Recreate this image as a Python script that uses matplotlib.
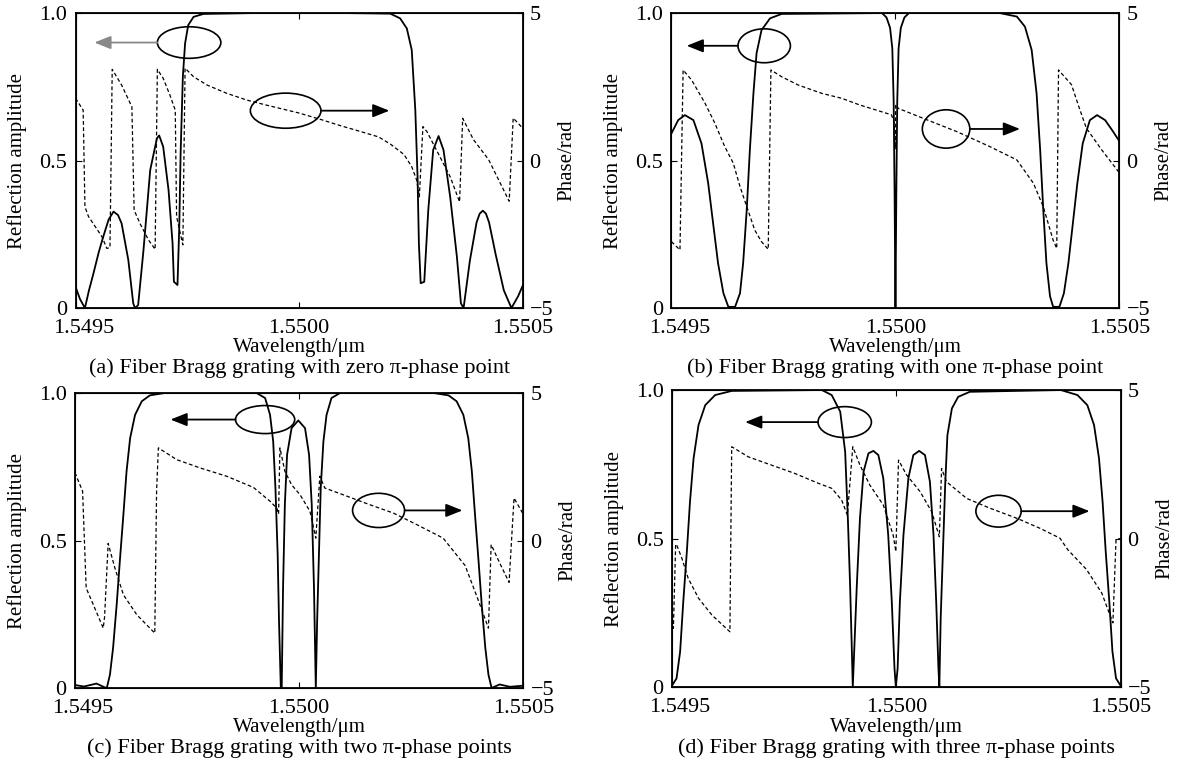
import matplotlib.pyplot as plt
import matplotlib.transforms as mtransforms
from matplotlib.patches import Ellipse
import numpy as np

plt.rcParams['font.family'] = ['Liberation Serif', 'DejaVu Serif']
plt.rcParams['font.size'] = 15

# wavelength detuning from 1.5500 um, in pm; amplitude 0..1; phase in rad
a_amp_d = [-500, -490, -479, -470, -460, -448, -438, -426, -415, -405, -397, -382, -371, -367, -360,
           -348, -333, -318, -313, -304, -292, -283, -280, -272, -268, -265, -260, -255, -248, -236,
           -214, -100, 100, 204, 226, 241, 252, 260, 265, 268, 272, 280, 289, 300, 312, 323, 338,
           353, 362, 368, 382, 397, 404, 411, 418, 425, 440, 458, 475, 490, 500]
a_amp = [0.072, 0.03, 0.0, 0.06, 0.117, 0.19, 0.242, 0.30, 0.327, 0.315, 0.287, 0.163, 0.016, 0.0, 0.01,
         0.197, 0.468, 0.575, 0.585, 0.547, 0.40, 0.219, 0.089, 0.078, 0.276, 0.524, 0.784, 0.897, 0.959, 0.987,
         0.997, 1.0, 1.0, 0.998, 0.982, 0.948, 0.875, 0.671, 0.445, 0.219, 0.084, 0.089, 0.332, 0.536, 0.583, 0.536, 0.377,
         0.174, 0.016, 0.0, 0.16, 0.29, 0.32, 0.33, 0.32, 0.29, 0.18, 0.06, 0.0, 0.04, 0.075]
a_ph_d = [-500, -483, -479, -471, -441, -430, -423, -418, -397, -374, -369, -356, -337, -322, -317,
          -304, -289, -277, -274, -260, -255, -236, -206, -162, -117, -76, 0, 51, 93, 136, 178,
          205, 235, 252, 263, 269, 277, 286, 315, 338, 359, 366, 390, 424, 470, 479, 500]
a_ph = [2.11, 1.71, -1.57, -1.90, -2.58, -2.98, -2.95, 3.09, 2.56, 1.82, -1.68, -2.13, -2.69, -3.01, 3.09,
        2.79, 2.22, 1.71, -1.90, -2.86, 3.13, 2.84, 2.56, 2.28, 2.05, 1.89, 1.61, 1.38, 1.18, 0.99, 0.80,
        0.55, 0.20, -0.21, -0.66, -1.23, 1.15, 0.98, 0.13, -0.55, -1.40, 1.43, 0.71, 0.03, -1.38, 1.44, 1.10]

b_amp_d = [-500, -485, -470, -451, -433, -418, -407, -396, -384, -373, -358, -347, -340, -332, -325,
           -317, -310, -299, -280, -254, -30, -20, -12, -7, -4, -2, -0.5, 0, 0.5, 2, 4, 7, 12, 20, 30,
           233, 271, 289, 304, 315, 323, 330, 337, 345, 352, 366, 376, 386, 396, 406, 418, 434, 450,
           468, 485, 500]
b_amp = [0.592, 0.637, 0.654, 0.637, 0.558, 0.423, 0.287, 0.152, 0.050, 0.004, 0.004, 0.05, 0.152, 0.332, 0.536,
         0.728, 0.864, 0.942, 0.982, 0.997, 1.0, 0.985, 0.95, 0.88, 0.7, 0.4, 0.1, 0.0, 0.1, 0.4, 0.7, 0.88, 0.95, 0.985, 1.0,
         1.0, 0.988, 0.954, 0.875, 0.728, 0.536, 0.332, 0.152, 0.04, 0.004, 0.004, 0.05, 0.152, 0.287, 0.423, 0.558, 0.637, 0.654,
         0.637, 0.60, 0.565]
b_ph_d = [-500, -481, -474, -455, -425, -403, -381, -362, -347, -332, -314, -299, -284, -278, -254,
          -217, -165, -120, -81, -9, -3, -0.5, 0.5, 6, 62, 137, 211, 271, 308, 330, 352, 360, 364,
          393, 409, 426, 460, 500]
b_ph = [-2.75, -3.03, 3.07, 2.73, 1.94, 1.26, 0.47, -0.09, -0.88, -1.56, -2.36, -2.75, -3.01, 3.07, 2.84,
        2.56, 2.28, 2.11, 1.89, 1.55, 1.3, 0.4, 1.9, 1.77, 1.43, 0.98, 0.47, 0.02, -0.77, -1.57, -2.70, -2.98, 3.07,
        2.57, 1.84, 1.10, 0.37, -0.42]

c_amp_d = [-500, -480, -452, -435, -429, -422, -415, -407, -400, -392, -385, -377, -366, -351, -333,
           -300, -95, -76, -65, -58, -53, -48, -45, -41, -39, -36, -32, -27, -17, -2, 13, 22, 28, 33,
           37, 40, 44, 48, 54, 61, 72, 91, 300, 333, 351, 366, 377, 385, 392, 400, 407, 415, 422, 429,
           447, 470, 500]
c_amp = [0.01, 0.005, 0.015, 0.003, 0.0, 0.045, 0.136, 0.282, 0.429, 0.588, 0.734, 0.847, 0.926, 0.972, 0.992,
         1.0, 1.0, 0.983, 0.926, 0.836, 0.678, 0.452, 0.226, 0.0, 0.0, 0.339, 0.621, 0.791, 0.881, 0.907, 0.881, 0.791, 0.621, 0.339,
         0.0, 0.226, 0.452, 0.678, 0.836, 0.926, 0.983, 1.0, 1.0, 0.992, 0.972, 0.926, 0.847, 0.734, 0.588, 0.429, 0.282, 0.136, 0.045, 0.0,
         0.012, 0.004, 0.008]
c_ph_d = [-500, -483, -475, -459, -437, -434, -426, -411, -392, -362, -322, -318, -314, -273, -221,
          -162, -102, -65, -50, -46, -43, -32, -17, 2, 24, 37, 46, 57, 98, 158, 210, 262, 321, 370,
          396, 422, 428, 447, 468, 479, 500]
c_ph = [2.3, 1.67, -1.61, -2.18, -2.97, -2.6, -0.1, -0.93, -1.84, -2.52, -3.14, 1.67, 3.14, 2.74, 2.46,
        2.18, 1.80, 1.33, 1.10, 0.9, 3.14, 2.35, 1.89, 1.55, 0.99, 0.08, 2.18, 1.78, 1.55, 1.21, 0.93, 0.54, 0.08, -0.85,
        -1.89, -2.97, -0.14, -0.76, -1.42, 1.44, 0.88]

d_amp_d = [-500, -490, -482, -475, -467, -460, -452, -441, -426, -404, -367, -166, -144, -125, -114,
           -108, -103, -99, -97, -88, -81, -73, -62, -51, -40, -29, -18, -10, -4, -1, 3, 8, 16, 27, 38,
           51, 64, 75, 83, 89, 94, 96, 99, 104, 109, 114, 124, 138, 164, 367, 404, 426, 441, 452, 460,
           467, 475, 482, 490, 500]
d_amp = [0.005, 0.029, 0.119, 0.287, 0.456, 0.624, 0.770, 0.882, 0.949, 0.983, 0.997, 1.0, 0.983, 0.927, 0.792,
         0.568, 0.343, 0.119, 0.0, 0.343, 0.568, 0.725, 0.787, 0.795, 0.781, 0.703, 0.512, 0.287, 0.063, 0.0, 0.063, 0.287, 0.512, 0.703, 0.781,
         0.795, 0.781, 0.691, 0.512, 0.287, 0.063, 0.0, 0.231, 0.456, 0.680, 0.848, 0.938, 0.977, 0.994, 1.0, 0.983, 0.949, 0.882, 0.770, 0.624,
         0.456, 0.287, 0.119, 0.029, 0.005]
d_ph_d = [-500, -497, -492, -490, -478, -464, -441, -411, -371, -367, -330, -278, -226, -174, -144,
          -122, -109, -97, -81, -59, -29, -7, -1, 5, 23, 53, 79, 96, 101, 112, 157, 209, 269, 321,
          365, 382, 424, 458, 483, 490, 500]
d_ph = [-2.75, -3.02, -0.2, -0.2, -0.67, -1.34, -2.01, -2.58, -3.14, 3.09, 2.75, 2.47, 2.19, 1.86, 1.69,
        1.30, 0.79, 3.09, 2.47, 1.80, 1.13, 0.12, -0.44, 2.64, 2.14, 1.58, 0.90, 0.06, 2.36, 1.91, 1.35, 1.02, 0.68, 0.34,
        0.01, -0.37, -1.04, -1.83, -2.84, -0.03, 0.0]

captions = [
    "(a) Fiber Bragg grating with zero \u03c0-phase point",
    "(b) Fiber Bragg grating with one \u03c0-phase point",
    "(c) Fiber Bragg grating with two \u03c0-phase points",
    "(d) Fiber Bragg grating with three \u03c0-phase points",
]

# axes rectangles (figure fraction) and callout ellipses (axes fraction)
rects = [
    [0.0636, 0.5984, 0.3763, 0.3846],
    [0.5652, 0.5984, 0.3771, 0.3846],
    [0.0631, 0.1030, 0.3775, 0.3846],
    [0.5657, 0.1043, 0.3775, 0.3872],
]
callouts = [
    [(0.254, 0.900, 0.142, 0.107, 0.042, '#888888'), (0.470, 0.669, 0.158, 0.119, 0.702, 'black')],
    [(0.207, 0.889, 0.117, 0.115, 0.034, 'black'), (0.613, 0.607, 0.106, 0.130, 0.778, 'black')],
    [(0.424, 0.910, 0.132, 0.095, 0.213, 'black'), (0.677, 0.602, 0.116, 0.116, 0.864, 'black')],
    [(0.385, 0.892, 0.119, 0.104, 0.163, 'black'), (0.728, 0.592, 0.101, 0.107, 0.931, 'black')],
]

panels = [
    (a_amp_d, a_amp, a_ph_d, a_ph),
    (b_amp_d, b_amp, b_ph_d, b_ph),
    (c_amp_d, c_amp, c_ph_d, c_ph),
    (d_amp_d, d_amp, d_ph_d, d_ph),
]

fig = plt.figure(figsize=(11.88, 7.67), dpi=100)
shift_right = mtransforms.ScaledTranslation(8 / 100, 0, fig.dpi_scale_trans)

for (amp_d, amp, ph_d, ph), rect, cap, calls in zip(panels, rects, captions, callouts):
    ax = fig.add_axes(rect)
    x_amp = 1.55 + np.array(amp_d) * 1e-6
    x_ph = 1.55 + np.array(ph_d) * 1e-6
    ax.plot(x_amp, amp, color='black', lw=1.3, solid_joinstyle='round')
    ax.set_xlim(1.5495, 1.5505)
    ax.set_ylim(0, 1)
    ax.set_xticks([1.5495, 1.5500, 1.5505])
    ax.set_xticklabels(['1.5495', '1.5500', '1.5505'])
    ax.set_yticks([0, 0.5, 1.0])
    ax.set_yticklabels(['0', '0.5', '1.0'])
    ax.tick_params(direction='in', length=4, top=True, labelsize=16)
    ax.tick_params(axis='x', pad=8)
    ax.tick_params(axis='y', pad=6)
    first = ax.get_xticklabels()[0]
    first.set_transform(first.get_transform() + shift_right)
    for s in ax.spines.values():
        s.set_linewidth(1.3)

    ax2 = ax.twinx()
    ax2.plot(x_ph, ph, color='black', lw=0.9, dashes=(3, 2))
    ax2.set_ylim(-5, 5)
    ax2.set_yticks([-5, 0, 5])
    ax2.set_yticklabels(['\u22125', '0', '5'])
    ax2.tick_params(direction='in', length=4, pad=5, labelsize=16)

    ax.text(-0.13, 0.5, 'Reflection amplitude', rotation=90, transform=ax.transAxes,
            ha='center', va='center', fontsize=15)
    ax.text(1.10, 0.5, 'Phase/rad', rotation=90, transform=ax.transAxes,
            ha='center', va='center', fontsize=15)
    ax.text(0.5, -0.135, 'Wavelength/\u03bcm', transform=ax.transAxes,
            ha='center', va='center', fontsize=15)
    ax.text(0.5, -0.205, cap, transform=ax.transAxes,
            ha='center', va='center', fontsize=16)

    for i, (cx, cy, w, h, xend, col) in enumerate(calls):
        ax2.add_patch(Ellipse((cx, cy), w, h, transform=ax2.transAxes,
                              fill=False, lw=1.2, color='black'))
        xstart = cx - w / 2 if i == 0 else cx + w / 2
        ax2.annotate('', xy=(xend, cy), xytext=(xstart, cy),
                     xycoords='axes fraction', textcoords='axes fraction',
                     arrowprops=dict(arrowstyle='-|>,head_length=0.5,head_width=0.2',
                                     color=col, lw=1.3, mutation_scale=20,
                                     shrinkA=0, shrinkB=0))

fig.savefig('out.png', dpi=100)
